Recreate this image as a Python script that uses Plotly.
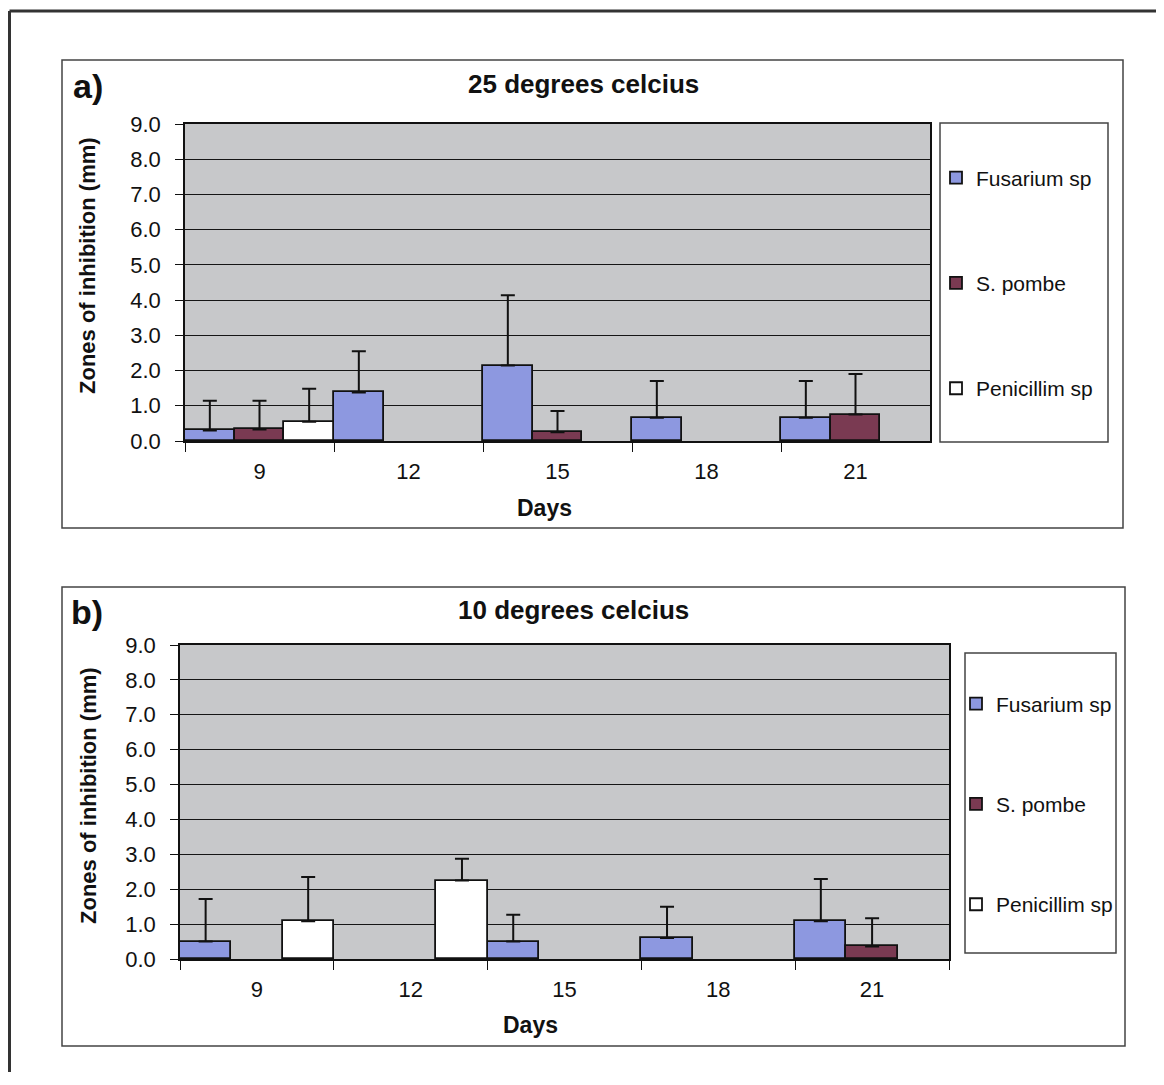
import plotly.graph_objects as go

# page has an 8px body margin; the figure is sized to fit inside the window
OFF = 8
W, H = 1148, 1064

days = ["9", "12", "15", "18", "21"]
series_names = ["Fusarium sp", "S. pombe", "Penicillim sp"]

# 25 degrees celcius (panel a)
fus25 = [0.30, 1.38, 2.14, 0.66, 0.66]
fus25_err = [0.84, 1.17, 2.00, 1.04, 1.04]
pom25 = [0.33, None, 0.25, None, 0.75]
pom25_err = [0.81, None, 0.60, None, 1.15]
pen25 = [0.55, None, None, None, None]
pen25_err = [0.93, None, None, None, None]

# 10 degrees celcius (panel b)
fus10 = [0.50, None, 0.50, 0.60, 1.08]
fus10_err = [1.22, None, 0.77, 0.90, 1.21]
pom10 = [None, None, None, None, 0.36]
pom10_err = [None, None, None, None, 0.81]
pen10 = [1.08, 2.25, None, None, None]
pen10_err = [1.27, 0.62, None, None, None]

colors = ["#8d98e0", "#7a3a52", "#ffffff"]
FONT = "Arial, Liberation Sans, sans-serif"


def px(x):
    return (x - OFF) / W


def py(y):
    return 1 - (y - OFF) / H


fig = go.Figure()

panels = [
    ("x", "y", "legend", [(fus25, fus25_err), (pom25, pom25_err), (pen25, pen25_err)]),
    ("x2", "y2", "legend2", [(fus10, fus10_err), (pom10, pom10_err), (pen10, pen10_err)]),
]
for xa, ya, lg, data in panels:
    for i, (vals, errs) in enumerate(data):
        fig.add_trace(go.Bar(
            x=days, y=vals, name=series_names[i],
            xaxis=xa, yaxis=ya, legend=lg, legendgroup=lg + str(i),
            marker=dict(color=colors[i], line=dict(color="#111111", width=1.8)),
            error_y=dict(type="data", symmetric=False, array=errs,
                         arrayminus=[0 if v is not None else None for v in errs],
                         color="#111111", thickness=2, width=7),
        ))

axis_common = dict(
    showline=True, linecolor="#111111", linewidth=1.6, mirror=True,
    ticks="outside", tickcolor="#111111", tickwidth=1.4, automargin=False,
    tickfont=dict(family=FONT, size=22, color="#111111"),
)

fig.update_layout(
    width=W, height=H, autosize=False,
    margin=dict(l=0, r=0, t=0, b=0, pad=0, autoexpand=False),
    paper_bgcolor="white", plot_bgcolor="#c7c8ca",
    barmode="group", bargap=0, bargroupgap=0,
    font=dict(family=FONT, color="#111111"),
    xaxis=dict(domain=[px(185), px(930)], anchor="y", type="category",
               tickson="boundaries", ticklen=9, ticklabelstandoff=10,
               showgrid=False, **axis_common),
    yaxis=dict(domain=[py(441), py(124)], anchor="x", range=[0, 9],
               dtick=1, tickformat=".1f", ticklen=8, ticklabelstandoff=10,
               showgrid=True, gridcolor="#151515", gridwidth=1.3, zeroline=False,
               **axis_common),
    xaxis2=dict(domain=[px(180), px(949)], anchor="y2", type="category",
                tickson="boundaries", ticklen=9, ticklabelstandoff=10,
                showgrid=False, **axis_common),
    yaxis2=dict(domain=[py(959), py(645)], anchor="x2", range=[0, 9],
                dtick=1, tickformat=".1f", ticklen=8, ticklabelstandoff=10,
                showgrid=True, gridcolor="#151515", gridwidth=1.3, zeroline=False,
                **axis_common),
    legend=dict(x=px(936), xanchor="left", y=py(283), yanchor="middle",
                bgcolor="rgba(0,0,0,0)", borderwidth=0, tracegroupgap=75,
                font=dict(family=FONT, size=21, color="#111111")),
    legend2=dict(x=px(956), xanchor="left", y=py(804), yanchor="middle",
                 bgcolor="rgba(0,0,0,0)", borderwidth=0, tracegroupgap=70,
                 font=dict(family=FONT, size=21, color="#111111")),
)

shapes = [
    # outer scan frame (top and left)
    dict(type="line", x0=px(9.5), x1=px(1164), y0=py(11), y1=py(11),
         line=dict(color="#333333", width=3)),
    dict(type="line", x0=px(9.5), x1=px(9.5), y0=py(11), y1=py(1085),
         line=dict(color="#333333", width=3)),
    # chart area boxes
    dict(type="rect", x0=px(62), x1=px(1123), y0=py(60), y1=py(528),
         line=dict(color="#444444", width=1.5)),
    dict(type="rect", x0=px(62), x1=px(1125), y0=py(587), y1=py(1046),
         line=dict(color="#444444", width=1.5)),
    # legend boxes
    dict(type="rect", x0=px(940), x1=px(1108), y0=py(123), y1=py(442),
         line=dict(color="#444444", width=1.5)),
    dict(type="rect", x0=px(965), x1=px(1116), y0=py(653), y1=py(953),
         line=dict(color="#444444", width=1.5)),
]
for s in shapes:
    s.update(xref="paper", yref="paper")
fig.update_layout(shapes=shapes)


def ann(text, x, y, size, angle=0):
    fig.add_annotation(text="<b>%s</b>" % text, x=px(x), y=py(y), xref="paper", yref="paper",
                       showarrow=False, xanchor="center", yanchor="middle", textangle=angle,
                       font=dict(family=FONT, size=size, color="#111111"))


ann("a)", 88, 86, 34)
ann("b)", 87, 612, 34)
ann("25 degrees celcius", 583, 84, 26)
ann("10 degrees celcius", 573, 610, 26)
ann("Zones of inhibition (mm)", 88, 266, 22, angle=-90)
ann("Zones of inhibition (mm)", 88, 796, 22, angle=-90)
ann("Days", 544, 508, 23)
ann("Days", 530, 1025, 23)

fig.write_html("out.html")
